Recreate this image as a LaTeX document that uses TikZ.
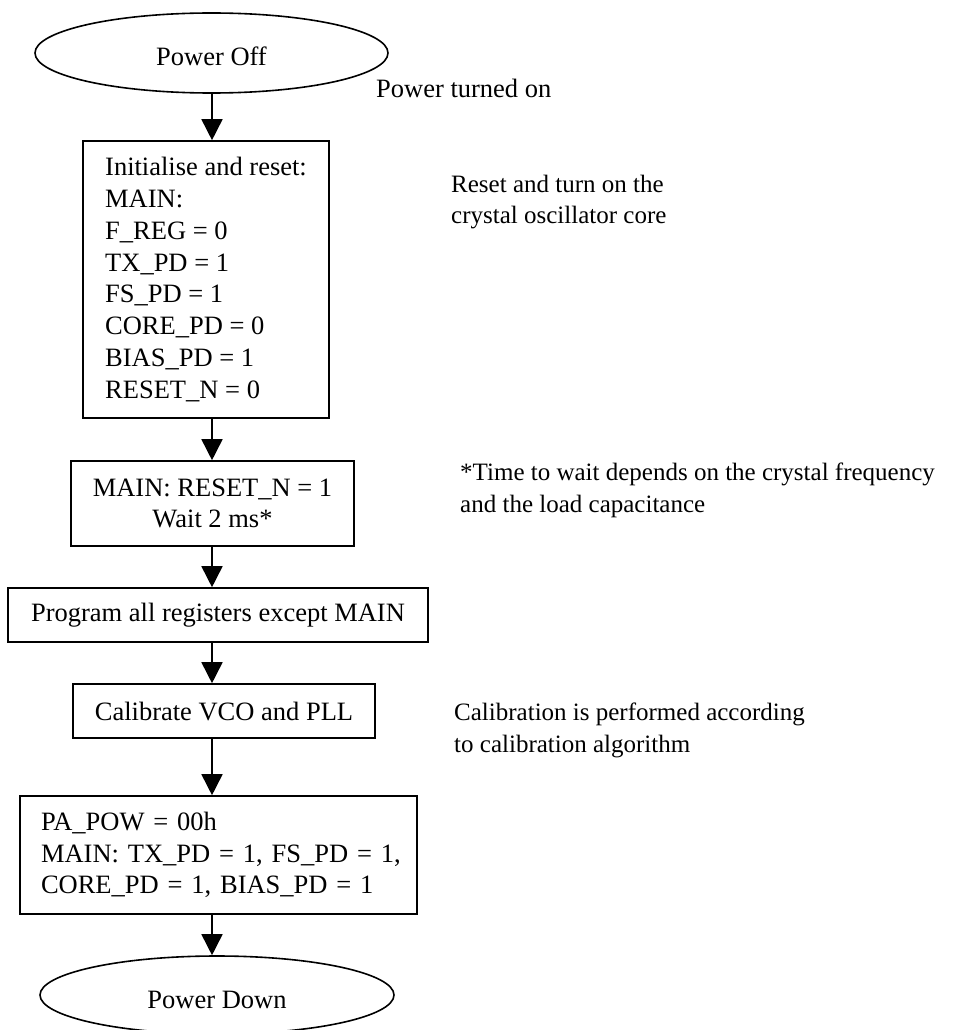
\documentclass[tikz,border=0pt]{standalone}
\usepackage{fontspec}
\setmainfont{Liberation Serif}
\usetikzlibrary{arrows.meta,shapes.geometric}
\tikzset{
  every node/.style={font=\fontsize{26.5}{31.8}\selectfont},
  procbox/.style={draw, line width=1.6pt, rectangle, inner sep=0pt, align=center},
  term/.style={draw, line width=1.6pt, ellipse, inner sep=0pt},
  note/.style={anchor=west, inner sep=0pt, align=left},
  smallnote/.style={note, font=\fontsize{25}{31.8}\selectfont},
  flow/.style={line width=1.6pt, -{Triangle[length=21pt,width=21pt]}},
}
\begin{document}
\begin{tikzpicture}[x=1pt,y=-1pt]
\useasboundingbox (0,0) rectangle (975,1030);

\node[term, minimum width=353pt, minimum height=80pt] (off) at (211.5,53) {\smash{\raisebox{-13pt}{Power Off}}};

\node[procbox, minimum width=246pt, minimum height=277pt, align=left] (init) at (206,279.5)
  {Initialise and reset:\\MAIN:\\F\_REG = 0\\TX\_PD = 1\\FS\_PD = 1\\CORE\_PD = 0\\BIAS\_PD = 1\\RESET\_N = 0};

\node[procbox, minimum width=283pt, minimum height=85pt] (rst) at (212.5,503.5)
  {MAIN: RESET\_N = 1\\Wait 2 ms*};

\node[procbox, minimum width=420pt, minimum height=54pt] (prog) at (218,615)
  {Program all registers except MAIN};

\node[procbox, minimum width=302pt, minimum height=54pt] (cal) at (224,711)
  {Calibrate VCO and PLL};

\node[procbox, minimum height=118pt, text width=355pt, inner xsep=21pt, align=left] (pd) at (218.5,855)
  {\mbox{PA\_POW = 00h}\\\mbox{MAIN: TX\_PD = 1, FS\_PD = 1,}\\\mbox{CORE\_PD = 1, BIAS\_PD = 1}};

\node[term, minimum width=354pt, minimum height=78pt] (down) at (217,995) {\smash{\raisebox{-13pt}{Power Down}}};

\coordinate (col) at (212,0);
\draw[flow] (off.south -| col) -- (init.north -| col);
\draw[flow] (init.south -| col) -- (rst.north -| col);
\draw[flow] (rst.south -| col) -- (prog.north -| col);
\draw[flow] (prog.south -| col) -- (cal.north -| col);
\draw[flow] (cal.south -| col) -- (pd.north -| col);
\draw[flow] (pd.south -| col) -- (down.north -| col);

\node[note] (n1) at (376,88) {Power turned on};
\node[smallnote] (n2) at (451,202) {Reset and turn on the\\crystal oscillator core};
\node[smallnote] (n3) at (460,490) {*Time to wait depends on the crystal frequency\\and the load capacitance};
\node[smallnote] (n4) at (454,730) {Calibration is performed according\\to calibration algorithm};
\end{tikzpicture}
\end{document}
